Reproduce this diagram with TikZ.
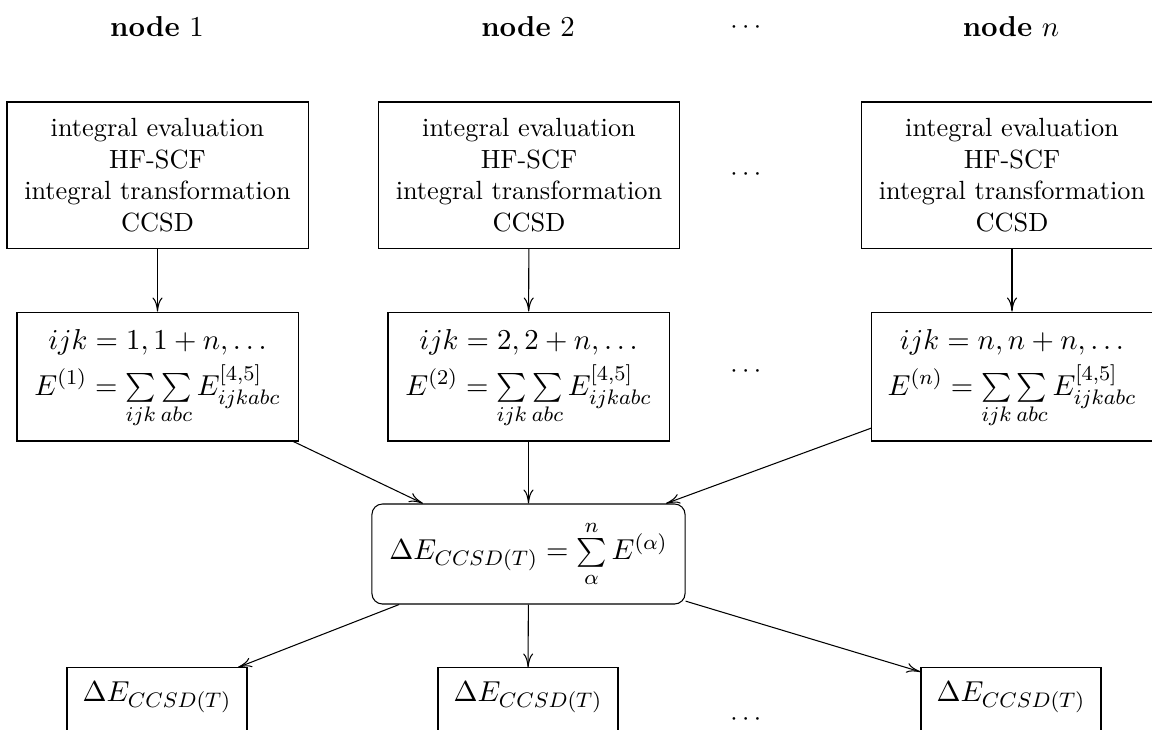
\documentclass[tikz,border=0pt]{standalone}
\usepackage{amsmath}
\usetikzlibrary{arrows.meta}
\newcommand{\mathsz}{\fontsize{10.95}{13.6}\selectfont}
\begin{document}
\begin{tikzpicture}[x=0.38pt,y=-0.38pt,
  stagebox/.style={draw,rectangle,align=center,inner sep=0pt,minimum width=114.4pt,minimum height=55.5pt},
  sumbox/.style={draw,rectangle,inner sep=0pt,minimum width=106.8pt,minimum height=49pt,font=\mathsz},
  totalbox/.style={draw,rectangle,rounded corners=4pt,inner sep=0pt,minimum width=119pt,minimum height=38pt,font=\mathsz},
  resbox/.style={draw,rectangle,inner sep=0pt,minimum width=68.4pt,minimum height=23.6pt},
  restext/.style={inner sep=0pt,font=\mathsz},
  head/.style={inner sep=0pt,font=\mathsz},
  dotsnode/.style={inner sep=0pt},
  flow/.style={-{To[length=5.3pt,width=3.8pt]}}]
\useasboundingbox (0,0) rectangle (1152,729);
% headers
\node[head] (h1) at (157,27) {\textbf{node} $1$};
\node[head] (h2) at (528,27) {\textbf{node} $2$};
\node[dotsnode] (hd) at (748,28) {$\cdots$};
\node[head] (hn) at (1011,27) {\textbf{node} $n$};
% row 1
\node[stagebox] (a1) at (157.5,175) {integral evaluation\\HF-SCF\\integral transformation\\CCSD};
\node[stagebox] (a2) at (529,175) {integral evaluation\\HF-SCF\\integral transformation\\CCSD};
\node[dotsnode] (ad) at (748,175) {$\cdots$};
\node[stagebox] (an) at (1012,175) {integral evaluation\\HF-SCF\\integral transformation\\CCSD};
% row 2
\node[sumbox] (b1) at (157.5,376.5) {$\begin{array}{@{}c@{}} ijk = 1, 1+n, \ldots\\[1.6pt] E^{(1)} = \sum\limits_{ijk}\sum\limits_{abc} E^{[4,5]}_{ijkabc}\end{array}$};
\node[sumbox] (b2) at (528.5,376.5) {$\begin{array}{@{}c@{}} ijk = 2, 2+n, \ldots\\[1.6pt] E^{(2)} = \sum\limits_{ijk}\sum\limits_{abc} E^{[4,5]}_{ijkabc}\end{array}$};
\node[dotsnode] (bd) at (748,372) {$\cdots$};
\node[sumbox] (bn) at (1012,376.5) {$\begin{array}{@{}c@{}} ijk = n, n+n, \ldots\\[1.6pt] E^{(n)} = \sum\limits_{ijk}\sum\limits_{abc} E^{[4,5]}_{ijkabc}\end{array}$};
% total
\node[totalbox] (c) at (528.5,554) {$\Delta E_{CCSD(T)} = \sum\limits_{\alpha}^{n} E^{(\alpha)}$};
% results
\node[resbox] (d1) at (157,699) {};
\node[resbox] (d2) at (528,699) {};
\node[dotsnode] (dd) at (748,720) {$\cdots$};
\node[resbox] (dn) at (1011,699) {};
\node[restext] (t1) at (157,697) {$\Delta E_{CCSD(T)}$};
\node[restext] (t2) at (528,697) {$\Delta E_{CCSD(T)}$};
\node[restext] (tn) at (1011,697) {$\Delta E_{CCSD(T)}$};
% connectors
\draw[flow] (a1) -- (b1);
\draw[flow] (a2) -- (b2);
\draw[flow] (an) -- (bn);
\draw[flow] (b1) -- (c);
\draw[flow] (b2) -- (c);
\draw[flow] (bn) -- (c);
\draw[flow] (c) -- (d1);
\draw[flow] (c) -- (d2);
\draw[flow] (c) -- (dn);
\end{tikzpicture}
\end{document}
